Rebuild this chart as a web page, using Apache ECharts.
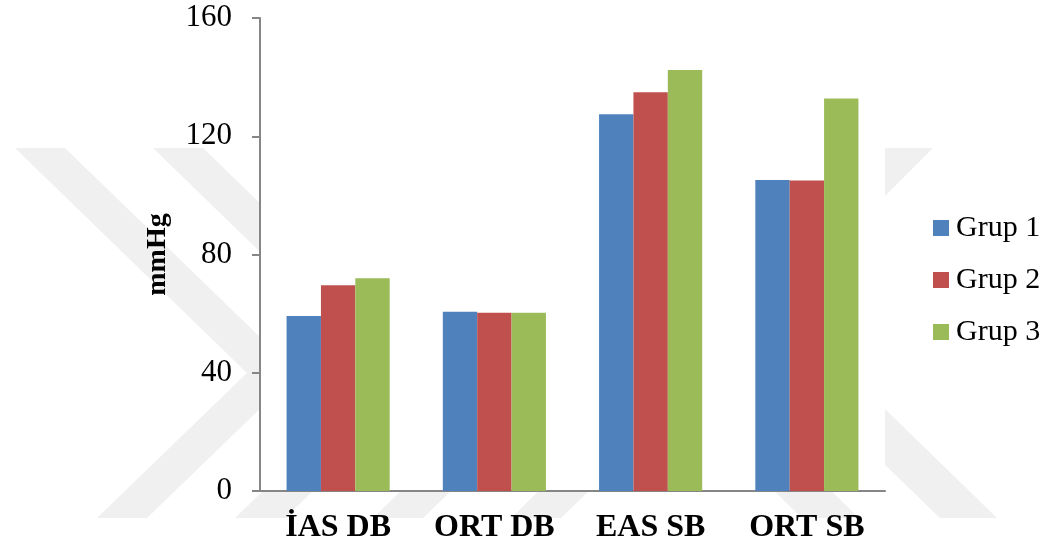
<!DOCTYPE html>
<html>
<head>
<meta charset="utf-8">
<script src="https://cdn.jsdelivr.net/npm/echarts@6/dist/echarts.min.js"></script>
<style>
html,body{margin:0;padding:0;background:#fff;}
#main{width:1045px;height:550px;}
</style>
</head>
<body>
<div id="main"></div>
<script>
const categories = ['İAS DB', 'ORT DB', 'EAS SB', 'ORT SB'];
const grup1 = [59.2, 60.6, 127.4, 105.2];
const grup2 = [69.6, 60.3, 134.9, 105.0];
const grup3 = [72.0, 60.3, 142.4, 132.8];
const seriesNames = ['Grup 1', 'Grup 2', 'Grup 3'];
const colors = ['#4F81BD', '#C0504D', '#9BBB59'];

const FONT = '"Liberation Serif", "Times New Roman", serif';
const WM = '#f0f0f0';

function band(dx, pts) {
  return pts.map(p => [p[0] + dx, p[1]]);
}
const leftChevron = [[15,148],[65,148],[297,373],[147,518],[97,518],[247,373]];
const rightChevron = [[883,148],[933,148],[777,304],[997,518],[940,518],[723,308]];
const wmShapes = [
  band(0, leftChevron), band(138, leftChevron), band(276, leftChevron), band(414, leftChevron),
  band(0, rightChevron), band(-138, rightChevron)
];

const chart = echarts.init(document.getElementById('main'), null, {renderer: 'canvas'});
chart.setOption({
  backgroundColor: '#fff',
  animation: false,
  color: colors,
  graphic: wmShapes.map(s => ({
    type: 'polygon', silent: true, z: -10,
    shape: {points: s},
    style: {fill: WM}
  })),
  grid: {
    left: 260, right: 160, top: 18, bottom: 59,
    show: true, backgroundColor: '#fff', borderWidth: 0, z: -5
  },
  legend: {
    orient: 'vertical',
    left: 928, top: 208,
    itemWidth: 16, itemHeight: 16, itemGap: 22,
    icon: 'rect',
    textStyle: {fontFamily: FONT, fontSize: 30, color: '#000', padding: [0,0,0,2]},
    data: seriesNames
  },
  xAxis: {
    type: 'category',
    data: categories,
    axisLine: {lineStyle: {color: '#868686', width: 2}},
    axisTick: {show: false},
    axisLabel: {interval: 0, fontFamily: FONT, fontSize: 32, fontWeight: 'bold', color: '#000', margin: 21}
  },
  yAxis: {
    type: 'value',
    min: 0, max: 160, interval: 40,
    name: 'mmHg',
    nameLocation: 'middle',
    nameGap: 88,
    nameRotate: 90,
    nameTextStyle: {fontFamily: FONT, fontSize: 28, fontWeight: 'bold', color: '#000'},
    splitLine: {show: false},
    axisLine: {show: true, lineStyle: {color: '#868686', width: 2}},
    axisTick: {show: true, inside: false, length: 8, lineStyle: {color: '#868686', width: 2}},
    axisLabel: {fontFamily: FONT, fontSize: 31, color: '#000', margin: 28}
  },
  series: [grup1, grup2, grup3].map((d, i) => ({
    name: seriesNames[i],
    type: 'bar',
    data: d,
    barGap: '0%',
    barCategoryGap: '34%',
    itemStyle: {color: colors[i]}
  }))
});
</script>
</body>
</html>
